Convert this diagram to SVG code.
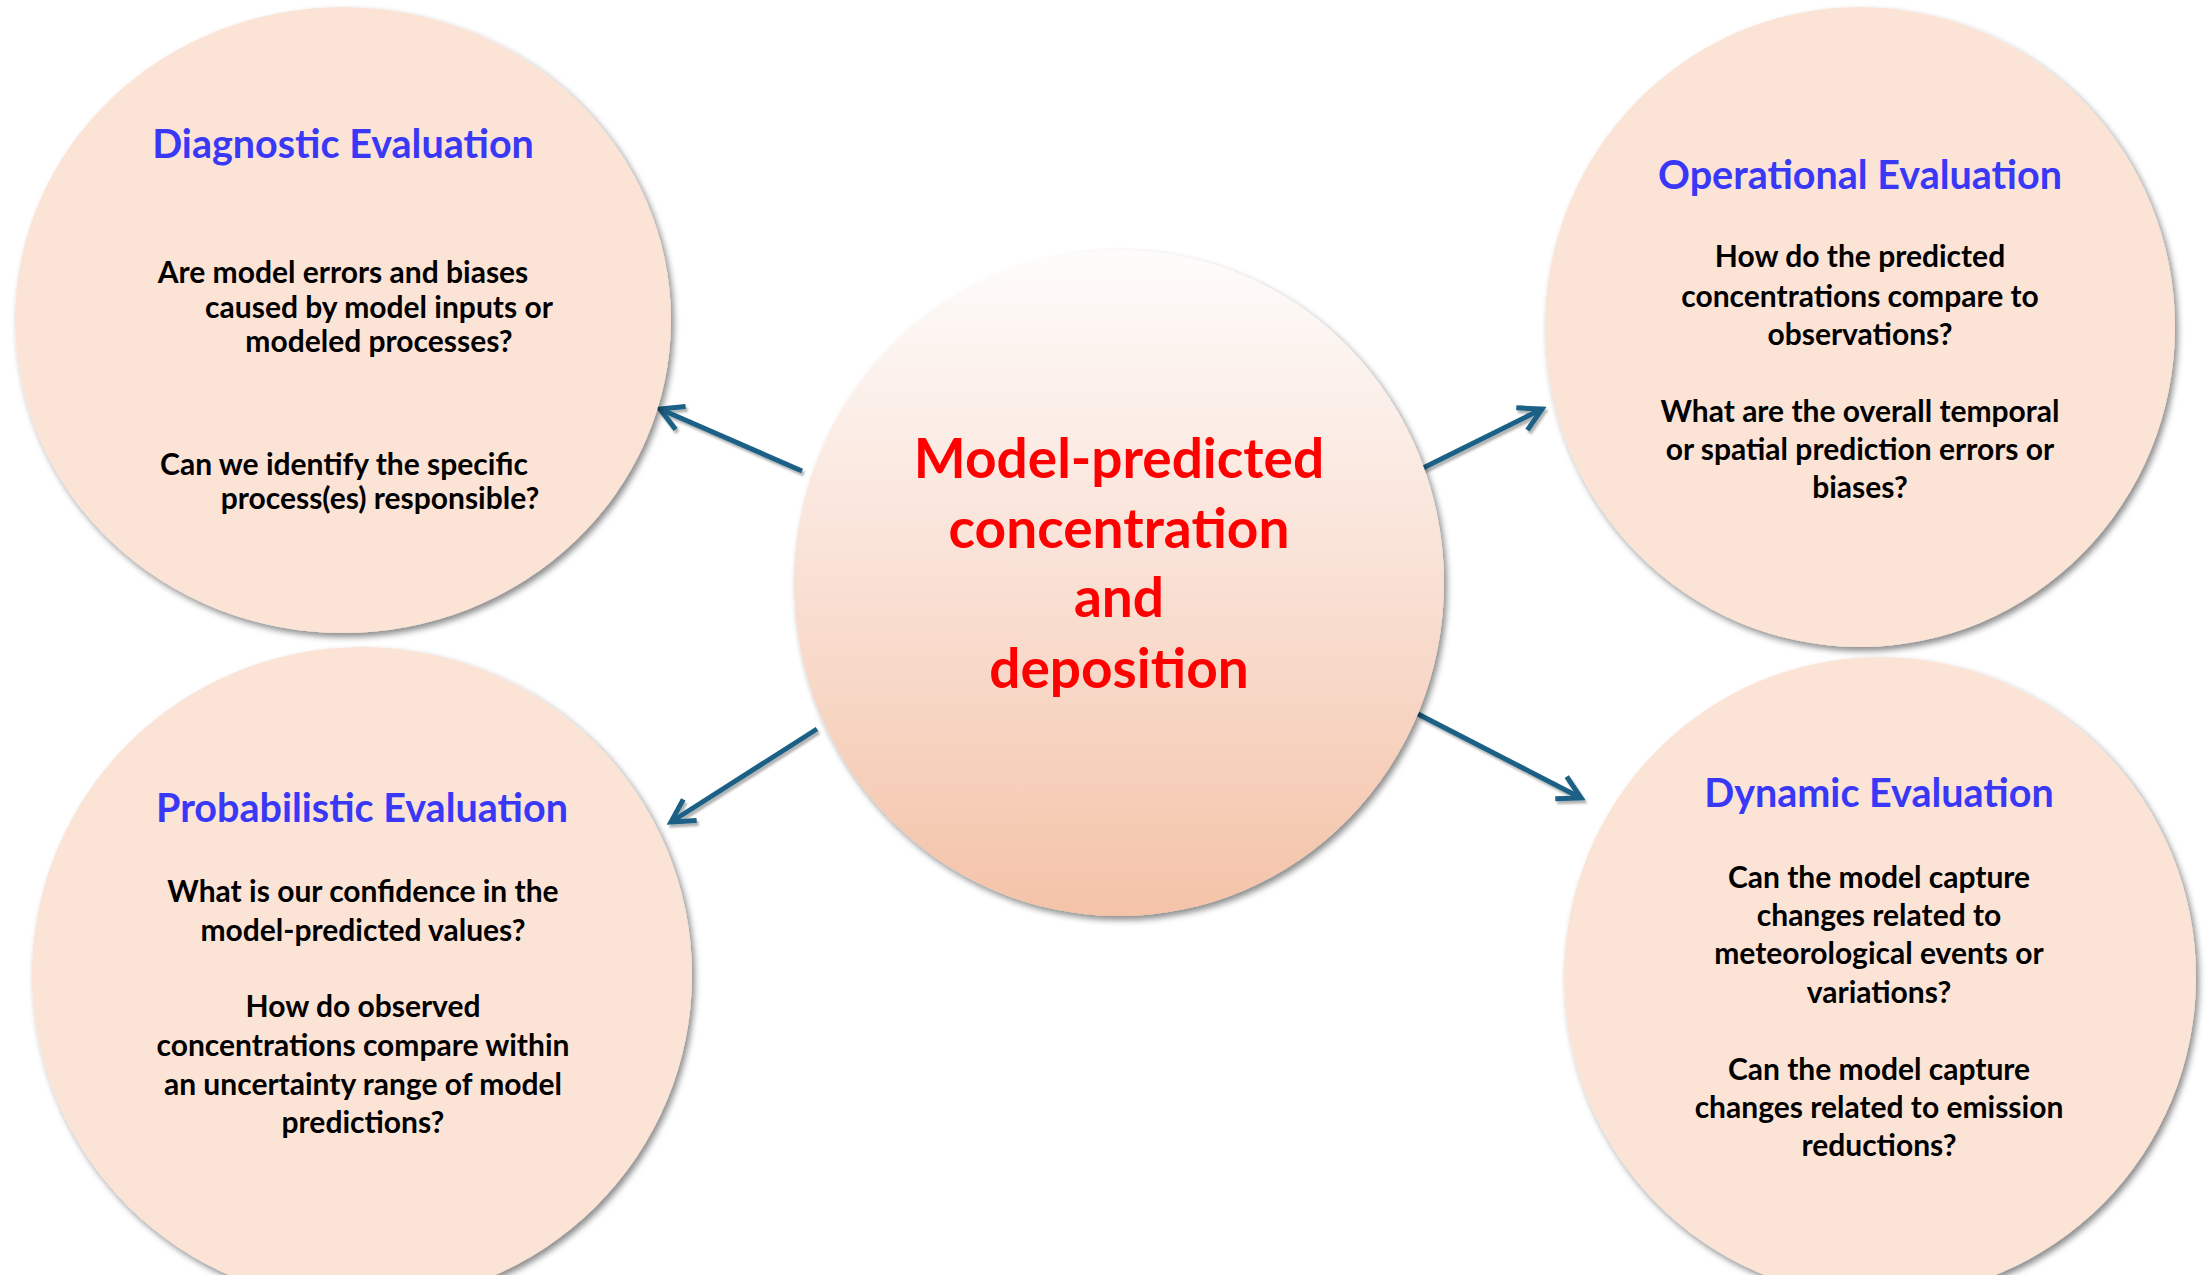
<svg xmlns="http://www.w3.org/2000/svg" width="2206" height="1275" viewBox="0 0 2206 1275">
  <style>
    .bubble { fill: #fbe3d6; filter: url(#softShadow); }
    .title { font-family: Lato, "Open Sans", sans-serif; font-weight: bold; font-size: 39.5px; fill: #3838f6; text-anchor: middle; }
    .body { font-family: Lato, "Open Sans", sans-serif; font-weight: bold; font-size: 30px; fill: #000; text-anchor: middle; }
    .hub { font-family: Lato, "Open Sans", sans-serif; font-weight: bold; font-size: 55px; fill: #ff0000; text-anchor: middle; }
    .link { stroke: #1b6185; stroke-width: 5; fill: none; stroke-linecap: butt; stroke-linejoin: miter; filter: url(#lineShadow); }
  </style>
  <defs>
    <filter id="softShadow" x="-10%" y="-10%" width="120%" height="120%">
      <feDropShadow dx="3" dy="4" stdDeviation="3" flood-color="#000" flood-opacity="0.45"/>
    </filter>
    <filter id="lineShadow" x="-20%" y="-20%" width="140%" height="140%">
      <feDropShadow dx="2" dy="3" stdDeviation="1" flood-color="#000" flood-opacity="0.3"/>
    </filter>
    <linearGradient id="hubFill" x1="0" y1="0" x2="0" y2="1">
      <stop offset="0" stop-color="#fefcfb"/>
      <stop offset="0.5" stop-color="#f9e0d4"/>
      <stop offset="1" stop-color="#f4c3a8"/>
    </linearGradient>
    <marker id="chevron" viewBox="0 0 12 12" refX="10" refY="6" markerWidth="6" markerHeight="6" markerUnits="strokeWidth" orient="auto">
      <path d="M1,1 L10,6 L1,11" fill="none" stroke="#1b6185" stroke-width="2"/>
    </marker>
  </defs>

  <rect width="2206" height="1275" fill="#ffffff"/>

  <!-- connectors from the hub out to each evaluation type -->
  <g id="connectors">
    <path class="link" d="M802,471 L660,409" marker-end="url(#chevron)"/>
    <path class="link" d="M1417,471 L1542,409" marker-end="url(#chevron)"/>
    <path class="link" d="M817,729 L671,822" marker-end="url(#chevron)"/>
    <path class="link" d="M1418,714 L1581,798" marker-end="url(#chevron)"/>
  </g>

  <g id="hub">
    <ellipse cx="1119" cy="583" rx="325" ry="333" fill="url(#hubFill)" filter="url(#softShadow)"/>
    <text class="hub" x="1119" y="478">Model-predicted</text>
    <text class="hub" x="1119" y="548">concentration</text>
    <text class="hub" x="1119" y="617">and</text>
    <text class="hub" x="1119" y="688">deposition</text>
  </g>

  <g id="diagnostic">
    <ellipse class="bubble" cx="343" cy="320" rx="328" ry="313"/>
    <text class="title" x="343" y="158">Diagnostic Evaluation</text>
    <text class="body" x="343" y="283">Are model errors and biases</text>
    <text class="body" x="379" y="318">caused by model inputs or</text>
    <text class="body" x="379" y="352">modeled processes?</text>
    <text class="body" x="344" y="475">Can we identify the specific</text>
    <text class="body" x="380" y="509">process(es) responsible?</text>
  </g>

  <g id="operational">
    <ellipse class="bubble" cx="1860" cy="327" rx="315" ry="320"/>
    <text class="title" x="1860" y="189">Operational Evaluation</text>
    <text class="body" x="1860" y="267">How do the predicted</text>
    <text class="body" x="1860" y="307">concentrations compare to</text>
    <text class="body" x="1860" y="345">observations?</text>
    <text class="body" x="1860" y="422">What are the overall temporal</text>
    <text class="body" x="1860" y="460">or spatial prediction errors or</text>
    <text class="body" x="1860" y="498">biases?</text>
  </g>

  <g id="probabilistic">
    <ellipse class="bubble" cx="362" cy="975" rx="330" ry="328"/>
    <text class="title" x="362" y="822">Probabilistic Evaluation</text>
    <text class="body" x="363" y="902">What is our confidence in the</text>
    <text class="body" x="363" y="941">model-predicted values?</text>
    <text class="body" x="363" y="1017">How do observed</text>
    <text class="body" x="363" y="1056">concentrations compare within</text>
    <text class="body" x="363" y="1095">an uncertainty range of model</text>
    <text class="body" x="363" y="1133">predictions?</text>
  </g>

  <g id="dynamic">
    <ellipse class="bubble" cx="1880" cy="977" rx="316" ry="320"/>
    <text class="title" x="1879" y="807">Dynamic Evaluation</text>
    <text class="body" x="1879" y="888">Can the model capture</text>
    <text class="body" x="1879" y="926">changes related to</text>
    <text class="body" x="1879" y="964">meteorological events or</text>
    <text class="body" x="1879" y="1003">variations?</text>
    <text class="body" x="1879" y="1080">Can the model capture</text>
    <text class="body" x="1879" y="1118">changes related to emission</text>
    <text class="body" x="1879" y="1156">reductions?</text>
  </g>
</svg>
